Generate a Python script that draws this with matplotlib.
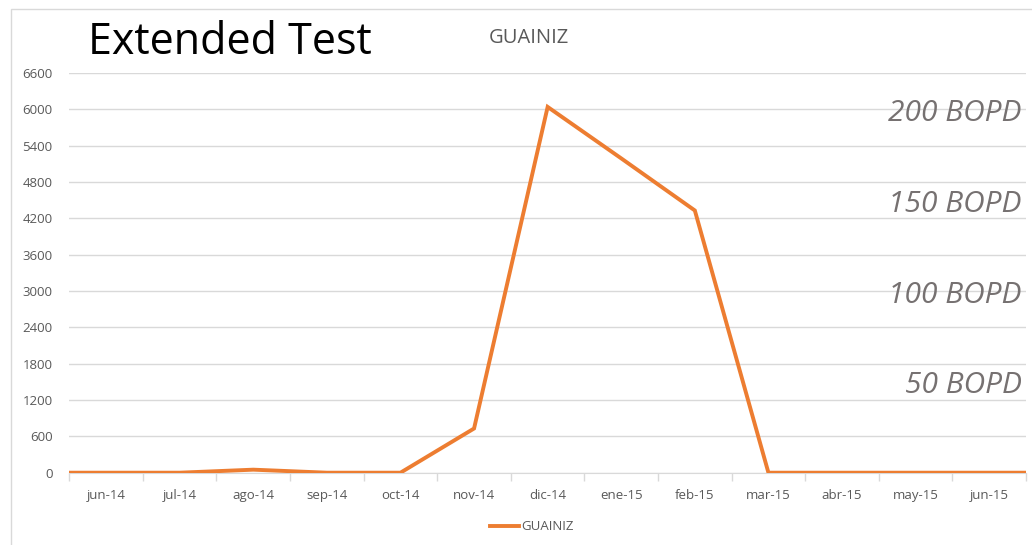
import matplotlib.pyplot as plt
import matplotlib.patches as patches
from matplotlib.ticker import FixedLocator, NullFormatter
import matplotlib.transforms as mtransforms

# --- Data ---
months = ['may-14', 'jun-14', 'jul-14', 'ago-14', 'sep-14', 'oct-14', 'nov-14',
          'dic-14', 'ene-15', 'feb-15', 'mar-15', 'abr-15', 'may-15', 'jun-15', 'jul-15']
production = [0, 0, 0, 50, 0, 0, 730, 6040, 5190, 4330, 0, 0, 0, 0, 0]
shown_labels = months[1:-1]
y_ticks = [0, 600, 1200, 1800, 2400, 3000, 3600, 4200, 4800, 5400, 6000, 6600]
bopd_labels = ['200 BOPD', '150 BOPD', '100 BOPD', '50 BOPD']
bopd_levels = [6000, 4500, 3000, 1500]

orange = '#ED7D31'
grid_grey = '#D9D9D9'
text_grey = '#595959'

plt.rcParams['font.family'] = ['Open Sans', 'DejaVu Sans']

fig = plt.figure(figsize=(10.32, 5.45), dpi=100)
ax = fig.add_axes([69.3 / 1032, 72.3 / 545, (1026 - 69.3) / 1032, 399.7 / 545])

# chart border
fig.patches.append(patches.Rectangle((11 / 1032, -0.1), 1.2, 1 - 9 / 545 + 0.1,
                                     transform=fig.transFigure, fill=False,
                                     edgecolor='#D9D9D9', linewidth=1))

x = range(-1, len(months) - 1)
ax.plot(x, production, color=orange, linewidth=2.8, solid_joinstyle='miter',
        clip_on=True, label='GUAINIZ')

ax.set_xlim(-0.5, len(shown_labels) - 0.5)
ax.set_ylim(0, 6600)
ax.set_yticks(y_ticks)
ax.set_yticklabels([str(v) for v in y_ticks], fontsize=9.5, color=text_grey)
ax.tick_params(axis='y', length=0, pad=12)

ax.xaxis.set_major_locator(FixedLocator([i - 0.5 for i in range(len(shown_labels) + 1)]))
ax.xaxis.set_major_formatter(NullFormatter())
ax.xaxis.set_minor_locator(FixedLocator(list(range(len(shown_labels)))))
ax.set_xticklabels(shown_labels, minor=True, fontsize=9.5, color=text_grey)
ax.tick_params(axis='x', which='major', length=6, color=grid_grey, width=1)
ax.tick_params(axis='x', which='minor', length=0, pad=12)

ax.grid(axis='y', color=grid_grey, linewidth=1)
ax.set_axisbelow(True)
for s in ['top', 'right', 'left']:
    ax.spines[s].set_visible(False)
ax.spines['bottom'].set_color(grid_grey)
ax.spines['bottom'].set_zorder(0.5)

# BOPD annotations on the right
trans = mtransforms.blended_transform_factory(fig.transFigure, ax.transData)
trans = trans + mtransforms.ScaledTranslation(0, -4 / 100, fig.dpi_scale_trans)
for lab, lev in zip(bopd_labels, bopd_levels):
    fig.text(1022 / 1032, lev, lab, transform=trans, ha='right', va='center',
             fontsize=21.5, style='italic', color='#767171')

# titles
fig.text(88 / 1032, 1 - 43 / 545, 'Extended Test', fontsize=31, color='black',
         ha='left', va='center')
fig.text(529 / 1032, 1 - 38 / 545, 'GUAINIZ', fontsize=14.5, color=text_grey,
         ha='center', va='center')

leg = fig.legend(loc='center', bbox_to_anchor=(532 / 1032, 1 - 527 / 545),
                 frameon=False, fontsize=9.5, handlelength=2.2, handletextpad=0.2)
for t in leg.get_texts():
    t.set_color(text_grey)

fig.savefig('out.png', dpi=100)
